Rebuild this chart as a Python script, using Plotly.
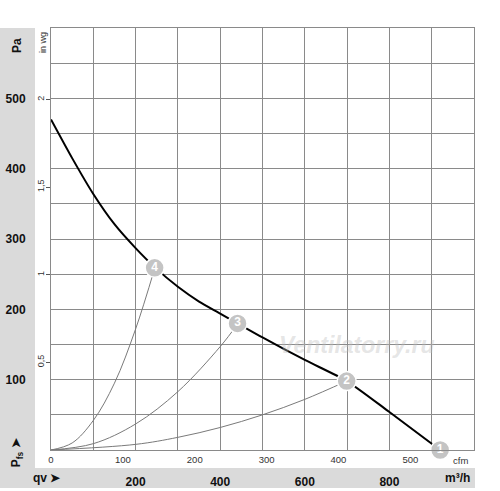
import plotly.graph_objects as go

M3H_PER_CFM = 1.699
PA_PER_INWG = 249.09

# fan curve (m3/h, Pa)
fan_q = [0, 50, 100, 150, 200, 245, 300, 350, 400, 441, 500, 600, 699, 800, 920]
fan_p = [470, 415, 364, 321, 287, 260, 232, 211, 194, 180, 160, 128, 98, 54, 0]

# system curves through the operating points
sys4_q = [0, 50, 100, 150, 200, 245]
sys4_p = [0, 10, 42, 95, 172, 258]
sys3_q = [0, 100, 200, 300, 400, 441]
sys3_p = [0, 9, 37, 83, 147, 179]
sys2_q = [0, 200, 300, 400, 500, 600, 699]
sys2_p = [0, 8, 18, 32, 50, 72, 98]

# operating points
pt_q = [920, 699, 441, 245]
pt_p = [0, 98, 180, 259]
pt_lbl = ['1', '2', '3', '4']

pa_ticks = [100, 200, 300, 400, 500]
inwg_ticks = [0.5, 1, 1.5, 2]
inwg_text = ['0,5', '1', '1,5', '2']
cfm_ticks = [0, 100, 200, 300, 400, 500]
m3h_ticks = [200, 400, 600, 800]

FONT = 'Liberation Sans, Arial, sans-serif'
GRID = '#8a8a8a'
BAND = '#dadada'
BOLD = dict(size=12, weight='bold', color='#111')


def note(text, x, y, **kw):
    return dict(text=text, xref='paper', yref='paper', x=x, y=y, showarrow=False,
                xanchor='center', yanchor='middle', **kw)


fig = go.Figure()
for q, p in [(sys4_q, sys4_p), (sys3_q, sys3_p), (sys2_q, sys2_p)]:
    fig.add_trace(go.Scatter(x=q, y=p, mode='lines', line=dict(color='#7a7a7a', width=1, shape='spline'),
                             hoverinfo='skip', showlegend=False))
fig.add_trace(go.Scatter(x=fan_q, y=fan_p, mode='lines',
                         line=dict(color='black', width=2, shape='spline', smoothing=0.7),
                         showlegend=False))
fig.add_trace(go.Scatter(x=pt_q, y=pt_p, mode='markers+text', text=pt_lbl, textposition='middle center',
                         textfont=dict(color='white', size=12, family=FONT, weight='bold'),
                         marker=dict(size=19, color='#c4c4c4', line=dict(color='white', width=1.5)),
                         cliponaxis=False, showlegend=False))
# invisible traces to hold the secondary axes
for xa, ya in [('x2', 'y2'), ('x2', 'y3')]:
    fig.add_trace(go.Scatter(x=[0], y=[0], xaxis=xa, yaxis=ya, mode='markers', marker=dict(opacity=0),
                             hoverinfo='skip', showlegend=False))

fig.update_layout(
    width=500, height=491,
    margin=dict(l=51, r=26, t=28, b=41),
    plot_bgcolor='white', paper_bgcolor='white',
    font=dict(family=FONT, color='#222'),
    xaxis=dict(range=[0, 1000], showgrid=True, gridcolor=GRID, gridwidth=1, automargin=False,
               showline=True, linecolor=GRID, mirror=True, zeroline=False,
               minor=dict(tick0=0, dtick=100, showgrid=True, gridcolor=GRID, gridwidth=1),
               tickmode='array', tickvals=m3h_ticks, ticks='', ticklabelstandoff=21,
               tickfont=BOLD),
    xaxis2=dict(range=[0, 1000 / M3H_PER_CFM], overlaying='x', side='bottom', anchor='y',
                automargin=False, showgrid=False, zeroline=False, tickvals=cfm_ticks, ticks='',
                ticklabelstandoff=2, tickfont=dict(size=9.5, color='#333')),
    yaxis=dict(range=[0, 600], showgrid=True, gridcolor=GRID, gridwidth=1, automargin=False,
               showline=True, linecolor=GRID, mirror=True, zeroline=False,
               minor=dict(tick0=0, dtick=50, showgrid=True, gridcolor=GRID, gridwidth=1),
               tickmode='array', tickvals=pa_ticks, ticks='', ticklabelstandoff=22,
               tickfont=BOLD),
    # in wg labels
    yaxis2=dict(range=[0, 600 / PA_PER_INWG], overlaying='y', side='left', anchor='x',
                automargin=False, showgrid=False, zeroline=False, tickvals=inwg_ticks, ticktext=inwg_text,
                ticks='', tickangle=-90, ticklabelstandoff=4, tickfont=dict(size=9, color='#333')),
    # in wg tick marks
    yaxis3=dict(range=[0, 600 / PA_PER_INWG], overlaying='y', side='left', anchor='x',
                automargin=False, showgrid=False, zeroline=False, tickvals=inwg_ticks,
                showticklabels=False, ticks='outside', ticklen=4, tickcolor='#555'),
    shapes=[
        dict(type='rect', xref='paper', yref='paper', x0=-0.1206, x1=-0.0378, y0=-0.090, y1=1.0,
             fillcolor=BAND, line_width=0, layer='below'),
        dict(type='rect', xref='paper', yref='paper', x0=-0.1206, x1=1.0024, y0=-0.090, y1=-0.0427,
             fillcolor=BAND, line_width=0, layer='below'),
    ],
    annotations=[
        note('Pa', -0.080, 0.958, textangle=-90, font=BOLD),
        note('in wg', -0.019, 0.967, textangle=-90, font=dict(size=9, color='#333')),
        note('P<sub>fs</sub> ➤', -0.080, -0.005, textangle=-90, font=BOLD),
        note('qv ➤', -0.0095, -0.066, font=BOLD),
        note('m³/h', 0.96, -0.066, font=BOLD),
        note('cfm', 0.969, -0.024, font=dict(size=9.5, color='#333')),
        note('<i>Ventilatorry.ru</i>', 0.723, 0.249,
             font=dict(size=23, weight='bold', color='rgba(190,190,190,0.4)')),
    ],
)

fig.write_html('out.html', post_script="document.body.style.margin='0px';",
               config={'displayModeBar': False})
